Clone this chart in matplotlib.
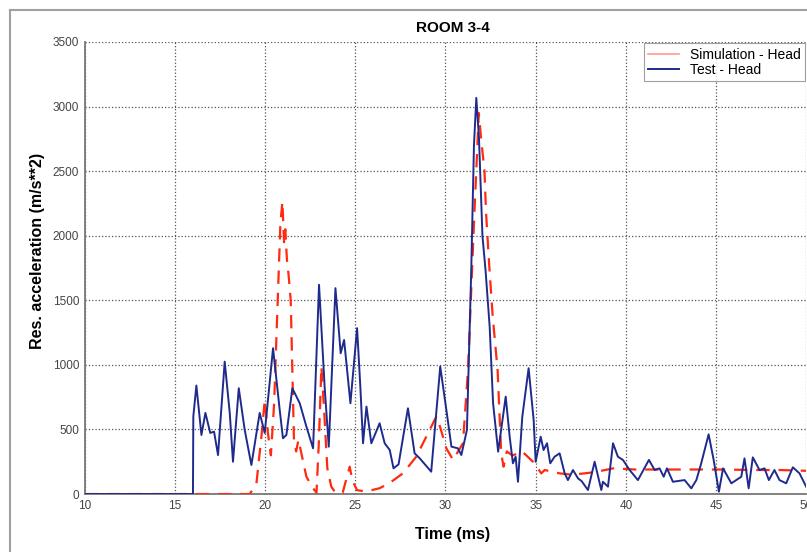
import matplotlib
matplotlib.use("Agg")
import matplotlib.pyplot as plt
from matplotlib.lines import Line2D

plt.rcParams['font.family'] = ['Liberation Sans', 'DejaVu Sans']

# Test - Head (blue), time in ms, res. acceleration in m/s**2
test_t = [10.0, 16.0, 16.02, 16.19, 16.47, 16.69, 16.96, 17.17, 17.39, 17.76, 18.04,
          18.22, 18.54, 18.87, 19.24, 19.70, 19.98, 20.44, 20.81, 20.99, 21.18, 21.51,
          21.92, 22.29, 22.66, 22.99, 23.30, 23.53, 23.90, 24.19, 24.38, 24.73, 25.10,
          25.28, 25.43, 25.62, 25.89, 26.35, 26.63, 26.91, 27.12, 27.40, 27.92, 28.29,
          28.57, 29.21, 29.71, 30.05, 30.33, 30.69, 30.88, 31.19, 31.43, 31.58, 31.71,
          31.86, 32.05, 32.22, 32.45, 32.64, 32.92, 33.34, 33.56, 33.74, 33.89, 34.02,
          34.26, 34.61, 34.89, 35.00, 35.28, 35.44, 35.63, 35.81, 36.05, 36.33, 36.61,
          36.79, 37.07, 37.35, 37.55, 37.90, 38.27, 38.51, 38.64, 38.73, 39.01, 39.29,
          39.56, 39.84, 40.21, 40.67, 41.28, 41.60, 41.87, 42.10, 42.28, 42.61, 43.26,
          43.63, 43.91, 44.18, 44.59, 44.87, 45.16, 45.39, 45.85, 46.40, 46.58, 46.81,
          47.04, 47.41, 47.69, 47.93, 48.24, 48.52, 48.89, 49.26, 49.63, 50.0]
test_a = [0, 0, 600, 840, 457, 628, 473, 483, 302, 1025, 628,
          250, 819, 496, 225, 628, 473, 1129, 651, 432, 457, 819,
          703, 522, 354, 1620, 832, 367, 1594, 1090, 1193, 703, 1284,
          832, 393, 677, 393, 548, 393, 341, 199, 230, 664, 315,
          277, 173, 987, 651, 367, 354, 302, 496, 1736, 2700, 3067,
          2750, 2000, 1736, 1297, 703, 328, 754, 444, 238, 289, 95,
          599, 974, 573, 250, 444, 341, 393, 238, 289, 315, 160,
          108, 186, 121, 100, 31, 250, 108, 31, 95, 57, 393,
          289, 264, 186, 108, 264, 186, 199, 134, 199, 95, 108,
          44, 108, 238, 462, 264, 18, 199, 83, 134, 276, 44,
          284, 186, 199, 108, 186, 108, 83, 207, 160, 57]

# Simulation - Head (red dashed)
sim_t = [10.0, 19.15, 19.52, 19.80, 19.98, 20.15, 20.32, 20.50, 20.70, 20.85, 20.96,
         21.05, 21.12, 21.21, 21.30, 21.42, 21.60, 21.72, 21.85, 22.29, 22.66, 22.85,
         22.98, 23.12, 23.25, 23.45, 23.67, 23.90, 24.30, 24.69, 24.85, 25.10, 25.60,
         26.35, 26.90, 27.64, 28.38, 29.03, 29.49, 29.70, 30.05, 30.42, 30.97, 31.25,
         31.55, 31.85, 31.98, 32.16, 32.25, 32.43, 32.62, 32.89, 33.09, 33.22, 33.40,
         33.70, 34.10, 34.25, 34.94, 35.31, 35.50, 36.33, 37.00, 37.70, 38.30, 39.30,
         40.50, 43.50, 45.40, 47.00, 48.50, 50.0]
sim_a = [0, 0, 83, 450, 729, 480, 300, 700, 1500, 2100, 2265,
         1950, 2050, 1813, 1700, 1500, 420, 330, 420, 134, 45, 10,
         400, 987, 700, 200, 57, 10, 10, 212, 100, 30, 20,
         45, 85, 160, 289, 470, 599, 520, 354, 264, 393, 961,
         2000, 2950, 2743, 2511, 2177, 1762, 1374, 961, 315, 212, 330,
         300, 315, 330, 238, 160, 186, 160, 150, 160, 170, 199,
         190, 190, 190, 186, 186, 180]

x_ticks = [10, 15, 20, 25, 30, 35, 40, 45, 50]
y_ticks = [0, 500, 1000, 1500, 2000, 2500, 3000, 3500]

fig = plt.figure(figsize=(8.07, 5.52), dpi=100)
ax = fig.add_axes([0.105, 0.105, 0.894, 0.819])

ax.plot(sim_t, sim_a, color='#ff2a10', linestyle=(0, (6, 4)), linewidth=1.6,
        label='Simulation - Head', zorder=3)
ax.plot(test_t, test_a, color='#1f2b8c', linewidth=1.4, label='Test - Head', zorder=4)

ax.set_xlim(10, 50)
ax.set_ylim(0, 3500)
ax.set_xticks(x_ticks)
ax.set_yticks(y_ticks)
ax.tick_params(labelsize=8.5, colors='#444444', length=0, pad=4)
ax.grid(True, linestyle=':', color='#555555', linewidth=0.9)
for s in ['left', 'bottom']:
    ax.spines[s].set_color('#777777')
    ax.spines[s].set_linewidth(1.3)
ax.spines['top'].set_visible(False)
ax.spines['right'].set_visible(False)

ax.set_title('ROOM 3-4', fontsize=11, fontweight='bold', pad=7, x=0.51)
ax.set_xlabel('Time (ms)', fontsize=11.5, fontweight='bold')
ax.set_ylabel('Res. acceleration (m/s**2)', fontsize=11.5, fontweight='bold')
ax.xaxis.set_label_coords(0.51, -0.073)
ax.yaxis.set_label_coords(-0.055, 0.538)

handles = [Line2D([], [], color='#ff9a90', linewidth=1.2),
           Line2D([], [], color='#1f2b8c', linewidth=1.4)]
leg = ax.legend(handles, ['Simulation - Head', 'Test - Head'], loc='upper right',
                fontsize=10, frameon=True, fancybox=False, borderaxespad=0.1,
                handlelength=2.2, labelspacing=0.1, borderpad=0.3)
leg.get_frame().set_edgecolor('#888888')
leg.get_frame().set_linewidth(0.8)

# scanned page frame
fig.add_artist(Line2D([10 / 807, 1.0], [1 - 10 / 552, 1 - 10 / 552],
                      transform=fig.transFigure, color='#a0a0a0', linewidth=1.5))
fig.add_artist(Line2D([10 / 807, 10 / 807], [0, 1 - 10 / 552],
                      transform=fig.transFigure, color='#a0a0a0', linewidth=1.5))

fig.savefig('out.png', dpi=100)
